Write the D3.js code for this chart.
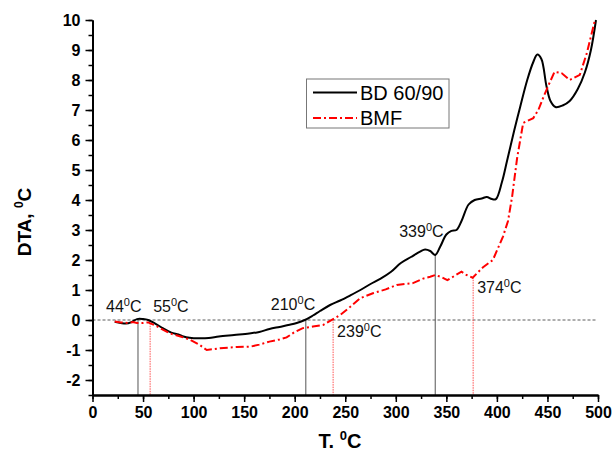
<!DOCTYPE html>
<html><head><meta charset="utf-8">
<script src="https://cdn.jsdelivr.net/npm/d3@7"></script>
<style>
body{margin:0;background:#fff;}
svg{display:block;font-family:Arial,"Liberation Sans",sans-serif;}
</style></head><body>
<svg id="c" width="613" height="456"></svg>
<script>
// ---- data ----
const bdT = [22,28,33,38,44,50,55,62,70,78,85,90,96,105,115,125,140,155,165,175,185,195,202,210,218,225,235,245,255,265,275,285,295,305,315,324,329,334,339,344,350,355,360,365,372,378,385,390,395,399,405,410,417,423,430,436,440,444,449,453,458,465,472,480,487,493,498];
const bdV = [-0.06,-0.1,-0.12,-0.08,0.03,0.03,0.0,-0.12,-0.28,-0.42,-0.48,-0.55,-0.59,-0.61,-0.6,-0.55,-0.5,-0.45,-0.4,-0.3,-0.23,-0.16,-0.1,0.0,0.15,0.3,0.5,0.65,0.82,1.0,1.2,1.38,1.6,1.9,2.1,2.28,2.35,2.3,2.17,2.45,2.85,2.97,3.0,3.3,3.85,4.0,4.05,4.1,4.03,4.03,4.6,5.3,6.3,7.1,8.0,8.6,8.85,8.7,7.8,7.3,7.1,7.15,7.3,7.7,8.25,9.0,10.0];
const bmfT = [22,28,35,40,44,50,55,62,70,77,87,96,106,113,120,126,135,143,156,165,175,185,192,200,208,218,228,238,245,255,265,278,290,301,317,327,334,339,345,351,358,365,370,376,386,396,406,411,415,420,426,436,441,446,452,457,464,472,482,489,497];
const bmfV = [-0.05,-0.08,-0.1,-0.07,-0.1,-0.1,-0.08,-0.18,-0.33,-0.45,-0.55,-0.65,-0.83,-1.0,-0.97,-0.94,-0.92,-0.9,-0.89,-0.82,-0.72,-0.65,-0.58,-0.4,-0.27,-0.22,-0.17,0.03,0.17,0.44,0.73,0.9,1.02,1.17,1.23,1.38,1.44,1.5,1.43,1.33,1.47,1.61,1.5,1.41,1.75,2.0,2.78,3.3,4.1,5.4,6.57,6.73,7.0,7.43,7.9,8.27,8.23,8.0,8.17,8.9,10.0];
const seriesNames = ["BD 60/90","BMF"];
const xTicks = [0,50,100,150,200,250,300,350,400,450,500];
const yTicks = [-2,-1,0,1,2,3,4,5,6,7,8,9,10];
// annotated temperatures (label) and where the marker line is drawn
const markLabels = ["44","55","210","239","339","374"];
const markT = [45,57,211,238,339,376.5];
const markSeries = [0,1,0,1,0,1];

// ---- drawing ----
const svg = d3.select("#c");
const M = {l:92.5, r:598, t:20, b:395};
const x = d3.scaleLinear().domain([0,500]).range([M.l,M.r]);
const y = d3.scaleLinear().domain([-2.5,10]).range([M.b,M.t]);
const FONT = 'Arial,"Liberation Sans",sans-serif';

// zero dashed line
svg.append("line").attr("x1",x(0)).attr("x2",x(499)).attr("y1",y(0)).attr("y2",y(0))
  .attr("stroke","#333").attr("stroke-width",0.8).attr("stroke-dasharray","3,2");

const bd = bdT.map((t,i)=>[t,bdV[i]]);
const bmf = bmfT.map((t,i)=>[t,bmfV[i]]);
const data = [bd,bmf];
function interp(arr,t){
  for(let i=1;i<arr.length;i++){ if(arr[i][0]>=t){const a=arr[i-1],b=arr[i];return a[1]+(b[1]-a[1])*(t-a[0])/(b[0]-a[0]);} }
  return arr[arr.length-1][1];
}

// marker lines
markT.forEach((t,i)=>{
  const s = markSeries[i];
  svg.append("line").attr("x1",x(t)).attr("x2",x(t)).attr("y1",y(interp(data[s],t))).attr("y2",y(-2.5))
    .attr("stroke", s===0?"#555":"#ff5050").attr("stroke-width",1)
    .attr("stroke-dasharray", s===0?null:"1.5,1");
});

// curves
svg.append("path").datum(bd).attr("fill","none").attr("stroke","#000").attr("stroke-width",2)
  .attr("stroke-linejoin","round").attr("d", d3.line().x(d=>x(d[0])).y(d=>y(d[1])).curve(d3.curveCatmullRom.alpha(0.5)));
svg.append("path").datum(bmf).attr("fill","none").attr("stroke","#ff0000").attr("stroke-width",2)
  .attr("stroke-dasharray","8,3,2,3").attr("d", d3.line().x(d=>x(d[0])).y(d=>y(d[1])).curve(d3.curveLinear));

// annotation labels (offsets in px relative to marker)
const labOff = [[-32,311.5],[3,311.5],[-35,310],[4,336.5],[-36,236.5],[4,292.5]];
markLabels.forEach((lab,i)=>{
  const t = svg.append("text").attr("x",x(markT[i])+labOff[i][0]).attr("y",labOff[i][1])
    .attr("font-size",16).attr("fill","#111").attr("font-family",FONT);
  t.append("tspan").text(lab);
  t.append("tspan").attr("font-size",11).attr("dy",-6).text("0");
  t.append("tspan").attr("dy",6).text("C");
});

// axes
const ax = svg.append("g").attr("transform",`translate(0,${M.b})`);
ax.call(d3.axisBottom(x).tickValues(d3.range(0,501,25)).tickSize(4).tickSizeOuter(0).tickFormat(""));
ax.selectAll(".tick line").attr("stroke-width",1.5);
const ax2 = svg.append("g").attr("transform",`translate(0,${M.b})`);
ax2.call(d3.axisBottom(x).tickValues(xTicks).tickSize(7).tickSizeOuter(0).tickPadding(5).tickFormat(d=>String(d)));
ax2.selectAll(".tick line").attr("stroke-width",1.5);
ax2.selectAll("text").attr("font-size",16).attr("font-weight","bold").attr("font-family",FONT).attr("fill","#000");

const ay = svg.append("g").attr("transform",`translate(${M.l},0)`);
ay.call(d3.axisLeft(y).tickValues(d3.range(-2.5,10.01,0.5)).tickSize(4).tickSizeOuter(0).tickFormat(""));
ay.selectAll(".tick line").attr("stroke-width",1.5);
const ay2 = svg.append("g").attr("transform",`translate(${M.l},0)`);
ay2.call(d3.axisLeft(y).tickValues(yTicks).tickSize(7).tickSizeOuter(0).tickPadding(5).tickFormat(d=>String(d)));
ay2.selectAll(".tick line").attr("stroke-width",1.5);
ay2.selectAll("text").attr("font-size",16).attr("font-weight","bold").attr("font-family",FONT).attr("fill","#000");
svg.selectAll(".domain").attr("stroke-width",2);

// axis titles
const yt = svg.append("text").attr("transform","translate(31,222) rotate(-90)").attr("text-anchor","middle")
  .attr("font-size",19).attr("font-weight","bold").attr("font-family",FONT);
yt.append("tspan").text("DTA, ");
yt.append("tspan").attr("font-size",12).attr("dy",-8).text("0");
yt.append("tspan").attr("dy",8).text("C");
const xt = svg.append("text").attr("x",340).attr("y",448).attr("text-anchor","middle")
  .attr("font-size",20).attr("font-weight","bold").attr("font-family",FONT);
xt.append("tspan").text("T. ");
xt.append("tspan").attr("font-size",13).attr("dy",-8).text("0");
xt.append("tspan").attr("dy",8).text("C");

// legend
const lg = svg.append("g");
lg.append("rect").attr("x",306.5).attr("y",79).attr("width",142.5).attr("height",49)
  .attr("fill","#fff").attr("stroke","#777").attr("stroke-width",1);
[["#000",null,92.5],["#ff0000","8,3,2,3",118]].forEach((s,i)=>{
  lg.append("line").attr("x1",313).attr("x2",357).attr("y1",s[2]).attr("y2",s[2])
    .attr("stroke",s[0]).attr("stroke-width",2).attr("stroke-dasharray",s[1]);
  lg.append("text").attr("x",360).attr("y",s[2]+7).attr("font-size",20).attr("font-family",FONT)
    .attr("fill","#000").text(seriesNames[i]);
});
</script>
</body></html>
